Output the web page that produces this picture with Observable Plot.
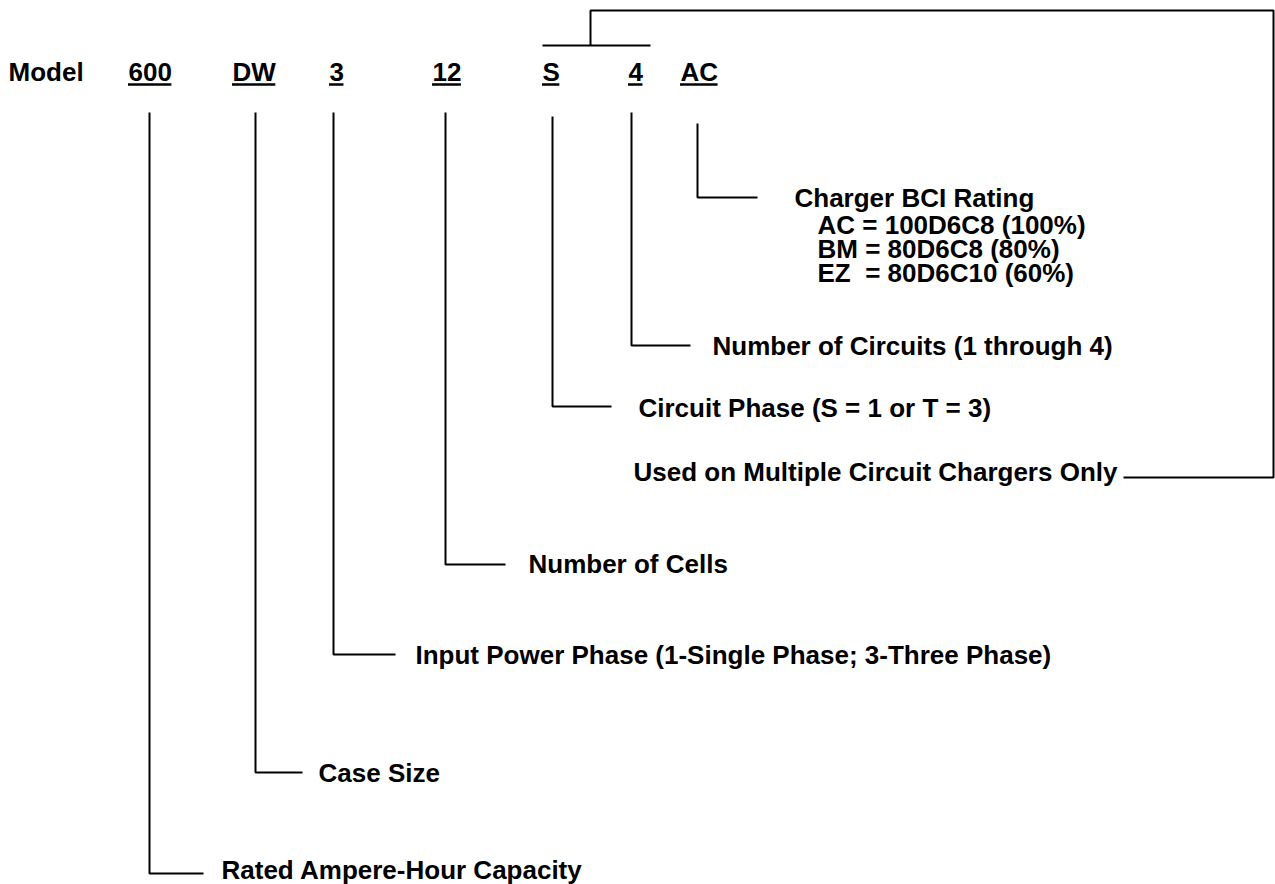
<!DOCTYPE html>
<html>
<head>
<meta charset="utf-8">
<script src="https://cdn.jsdelivr.net/npm/d3@7"></script>
<script src="https://cdn.jsdelivr.net/npm/@observablehq/plot@0.6"></script>
<style>
  html, body { margin: 0; padding: 0; background: #fff; }
  #chart svg { display: block; }
  #chart text { white-space: pre; }
</style>
</head>
<body>
<div id="chart"></div>
<script>
// Top row: the model-number code
const modelLabel = ["Model"];
const modelLabelX = [8];
const codes = ["600", "DW", "3", "12", "S", "4", "AC"];
const codeX = [128, 232, 329, 432, 542, 628, 680];
const codeY = 72;
const underlineY = 84;

// Leader lines: one per code, running down then right to its description
const descriptions = [
  "Rated Ampere-Hour Capacity",
  "Case Size",
  "Input Power Phase (1-Single Phase; 3-Three Phase)",
  "Number of Cells",
  "Circuit Phase (S = 1 or T = 3)",
  "Number of Circuits (1 through 4)",
  "Charger BCI Rating"
];
const leaderX       = [149, 255, 333, 445, 552, 631, 697];
const leaderTop     = [112, 112, 112, 112, 116, 112, 123];
const leaderCornerY = [873, 772, 654, 564, 406, 345, 197];
const leaderEndX    = [203, 302, 395, 505, 611, 690, 757];
const descX         = [221, 318, 415, 528, 638, 712, 794];
const descY         = [870, 773, 655, 564, 408, 346, 198];

// BCI rating options listed below "Charger BCI Rating"
const bciLines = ["AC = 100D6C8 (100%)", "BM = 80D6C8 (80%)", "EZ  = 80D6C10 (60%)"];
const bciX = 817;
const bciY = [225, 249, 273];

// Bracket linking S and 4 to the "multiple circuit" note
const noteText = ["Used on Multiple Circuit Chargers Only"];
const noteX = [633];
const noteY = [472];
const bracketBarX = [542, 650];
const bracketBarY = 45;
const bracketPathX = [590, 590, 1273, 1273, 1123];
const bracketPathY = [45, 10, 10, 477, 477];

// ---- build tables for the marks ----
const fontFamily = "'Liberation Sans', Arial, Helvetica, sans-serif";
const fontSize = 26;
const ctx = document.createElement("canvas").getContext("2d");
ctx.font = `bold ${fontSize}px ${fontFamily}`;

const leaderPts = codes.flatMap((c, i) => [
  {id: c, x: leaderX[i], y: leaderTop[i]},
  {id: c, x: leaderX[i], y: leaderCornerY[i]},
  {id: c, x: leaderEndX[i], y: leaderCornerY[i]}
]);
const bracketPts = [
  ...bracketBarX.map(x => ({id: "bar", x, y: bracketBarY})),
  ...bracketPathX.map((x, i) => ({id: "path", x, y: bracketPathY[i]}))
];
const codeRows = codes.map((c, i) => ({t: c, x: codeX[i], y: codeY, w: ctx.measureText(c).width}));
const modelRows = modelLabel.map((t, i) => ({t, x: modelLabelX[i], y: codeY}));
const descRows = descriptions.map((t, i) => ({t, x: descX[i], y: descY[i]}));
const bciRows = bciLines.map((t, i) => ({t, x: bciX, y: bciY[i]}));
const noteRows = noteText.map((t, i) => ({t, x: noteX[i], y: noteY[i]}));

const textOpts = {x: "x", y: "y", text: "t", textAnchor: "start", fontSize, fontWeight: "bold", fill: "black"};
const lineOpts = {x: "x", y: "y", z: "id", stroke: "black", strokeWidth: 2, strokeLinejoin: "miter", strokeLinecap: "butt"};

const W = 1275, H = 884;
const chart = Plot.plot({
  width: W,
  height: H,
  margin: 0,
  x: {domain: [0, W], axis: null},
  y: {domain: [0, H], reverse: true, axis: null},
  style: {background: "white", fontFamily, color: "black"},
  marks: [
    Plot.line(leaderPts, lineOpts),
    Plot.line(bracketPts, lineOpts),
    Plot.text(modelRows, textOpts),
    Plot.text(codeRows, textOpts),
    Plot.ruleY(codeRows, {y: () => underlineY, x1: "x", x2: d => d.x + d.w, stroke: "black", strokeWidth: 2.5}),
    Plot.text(descRows, textOpts),
    Plot.text(bciRows, textOpts),
    Plot.text(noteRows, textOpts)
  ]
});
document.getElementById("chart").appendChild(chart);
</script>
</body>
</html>
